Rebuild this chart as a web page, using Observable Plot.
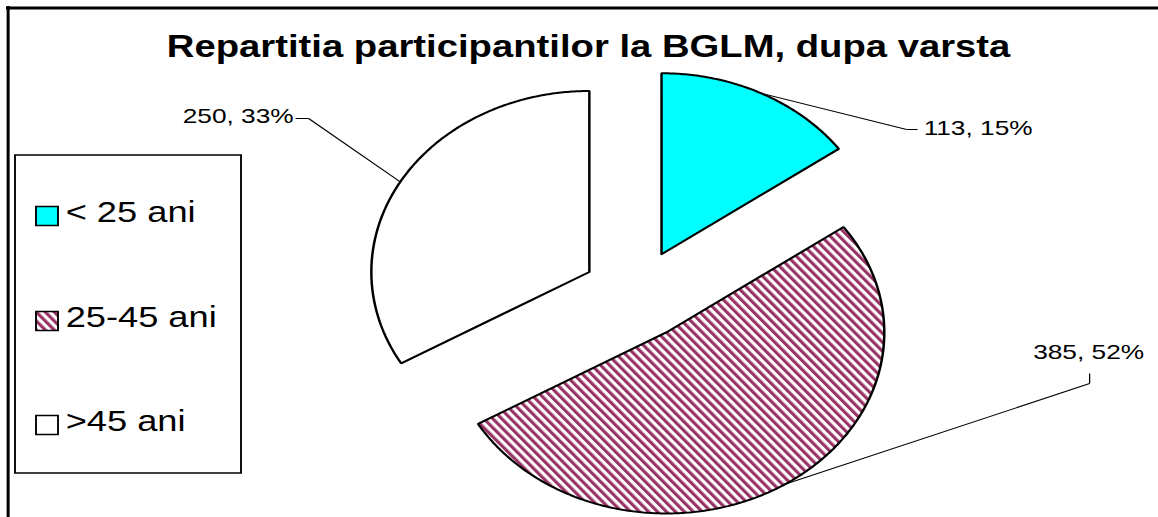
<!DOCTYPE html>
<html><head><meta charset="utf-8">
<script src="https://cdn.jsdelivr.net/npm/d3@7"></script>
<script src="https://cdn.jsdelivr.net/npm/@observablehq/plot@0.6"></script>
<style>
html,body{margin:0;padding:0;background:#fff;}
#chart{width:1158px;height:517px;overflow:hidden;position:relative;}
</style></head><body><div id="chart"></div>
<script>
// ---- data ----
const categories = ["< 25 ani", "25-45 ani", ">45 ani"];
const counts = [113, 385, 250];
const percents = [15, 52, 33];
const title = "Repartitia participantilor la BGLM, dupa varsta";
const colors = ["#00ffff", "url(#hatch)", "#ffffff"];

// ---- layout (page pixels) ----
const W = 1158, H = 517, k = 1.25;          // horizontal stretch of the picture
const Pw = W / k;
const CX = 636, CY = 294, RX = 218, RY = 181; // pie centre / radii
const explode = 0.25;
const ux = px => (px - CX) / RX;
const uy = py => (CY - py) / RY;
const labelLayout = [
  {bend: [906, 129], end: [917, 129], text: [923, 128], anchor: "start"},
  {bend: [1089, 383], end: [1089, 373], text: [1088, 352], anchor: "middle"},
  {bend: [308, 118], end: [295, 118], text: [293, 116], anchor: "end"}
];
const legendBox = {x1: 15, x2: 241, y1: 155, y2: 473};
const legendRows = [212, 317, 421];
const swatch = {x1: 36, x2: 58, h: 19, dy: 4};
const legendTextX = 65;

// ---- geometry from data ----
const arcs = d3.pie().sort(null).value(d => d)(counts);
const pts = [];
const leaders = [];
arcs.forEach((p, i) => {
  const cat = categories[i];
  const m = (p.startAngle + p.endAngle) / 2;
  const ox = explode * Math.sin(m), oy = explode * Math.cos(m);
  pts.push({cat, x: ox, y: oy});
  const n = Math.ceil((p.endAngle - p.startAngle) / 0.01);
  for (let j = 0; j <= n; j++) {
    const a = p.startAngle + (p.endAngle - p.startAngle) * j / n;
    pts.push({cat, x: ox + Math.sin(a), y: oy + Math.cos(a)});
  }
  pts.push({cat, x: ox, y: oy});
  const L = labelLayout[i];
  leaders.push({x1: ox + Math.sin(m), y1: oy + Math.cos(m), x2: ux(L.bend[0]), y2: uy(L.bend[1])});
  leaders.push({x1: ux(L.bend[0]), y1: uy(L.bend[1]), x2: ux(L.end[0]), y2: uy(L.end[1])});
});
const labels = categories.map((c, i) => ({
  text: `${counts[i]}, ${percents[i]}%`,
  x: ux(labelLayout[i].text[0]), y: uy(labelLayout[i].text[1]), anchor: labelLayout[i].anchor
}));

const font = "Liberation Sans, Arial, Helvetica, sans-serif";
const plot = Plot.plot({
  width: Pw, height: H, margin: 0,
  style: {fontFamily: font, background: "#fff"},
  x: {domain: [ux(0), ux(W)], range: [0, Pw], axis: null},
  y: {domain: [uy(0), uy(H)], range: [0, H], axis: null},
  color: {domain: categories, range: colors},
  marks: [
    Plot.ruleY([uy(7.5)], {x1: ux(6), x2: ux(W), stroke: "#000", strokeWidth: 3}),
    Plot.ruleX([ux(7.5)], {y1: uy(6), y2: uy(H), stroke: "#000", strokeWidth: 3 / k}),
    Plot.line(pts, {x: "x", y: "y", z: "cat", fill: "cat", stroke: "#000", strokeWidth: 2, strokeLinejoin: "miter"}),
    Plot.link(leaders, {x1: "x1", y1: "y1", x2: "x2", y2: "y2", stroke: "#000", strokeWidth: 1}),
    ...["start", "middle", "end"].map(a => Plot.text(labels.filter(d => d.anchor === a), {
      x: "x", y: "y", text: "text", textAnchor: a, fontSize: 21, fill: "#000"})),
    Plot.text([title], {x: () => ux(588), y: () => uy(47), text: d => d, fontSize: 30.6, fontWeight: "bold", fill: "#000"}),
    Plot.rect([0], {x1: () => ux(legendBox.x1), x2: () => ux(legendBox.x2), y1: () => uy(legendBox.y1), y2: () => uy(legendBox.y2),
      fill: "#fff", stroke: "#000", strokeWidth: 1.5}),
    Plot.rect(categories, {x1: () => ux(swatch.x1), x2: () => ux(swatch.x2),
      y1: (d, i) => uy(legendRows[i] + swatch.dy - swatch.h / 2), y2: (d, i) => uy(legendRows[i] + swatch.dy + swatch.h / 2),
      fill: d => d, stroke: "#000", strokeWidth: 1.5}),
    Plot.text(categories, {x: () => ux(legendTextX), y: (d, i) => uy(legendRows[i]), text: d => d,
      textAnchor: "start", fontSize: 29, fill: "#000"})
  ]
});

// hatch pattern for the 25-45 slice
const svg = d3.select(plot);
const defs = svg.insert("defs", ":first-child");
const pat = defs.append("pattern").attr("id", "hatch").attr("patternUnits", "userSpaceOnUse")
  .attr("width", 5.6).attr("height", 10).attr("patternTransform", "rotate(-38.66)");
pat.append("rect").attr("width", 5.6).attr("height", 10).attr("fill", "#fff");
pat.append("rect").attr("width", 2.8).attr("height", 10).attr("fill", "#993366");

// stretch horizontally like the original picture
plot.setAttribute("viewBox", `0 0 ${Pw} ${H}`);
plot.setAttribute("preserveAspectRatio", "none");
plot.setAttribute("width", W);
plot.setAttribute("height", H);
plot.style.width = W + "px";
plot.style.height = H + "px";
plot.style.maxWidth = "none";
document.getElementById("chart").appendChild(plot);
</script></body></html>
